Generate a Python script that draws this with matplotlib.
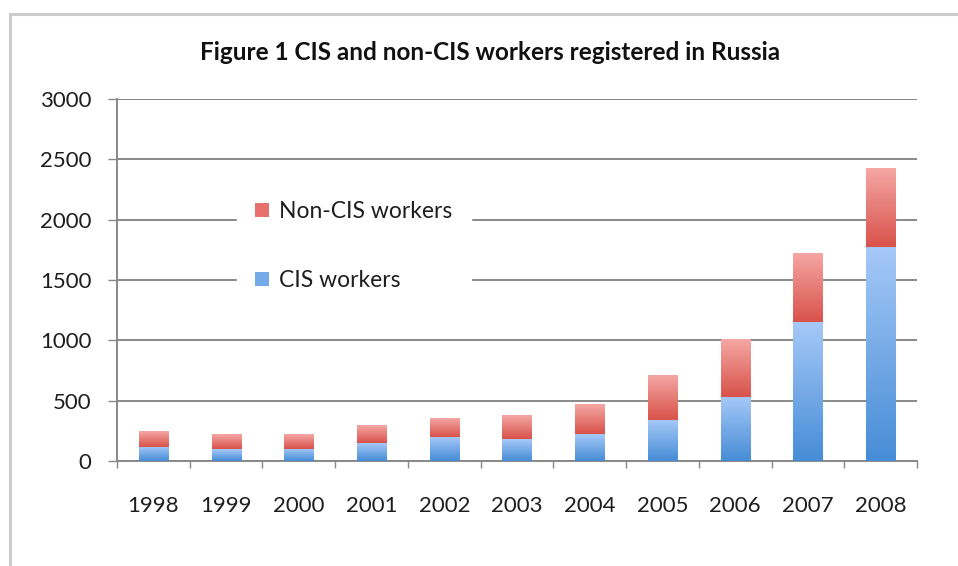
"""
Stacked bar chart: CIS and non-CIS workers registered in Russia, 1998-2008.

Output:
  out.png
"""

import matplotlib.pyplot as plt
import numpy as np
from matplotlib.colors import LinearSegmentedColormap
from matplotlib.lines import Line2D
from matplotlib.patches import Patch


YEARS = ["1998", "1999", "2000", "2001", "2002", "2003", "2004", "2005", "2006", "2007", "2008"]
CIS_WORKERS = [117, 96, 101, 148, 202, 182, 220, 340, 531, 1152, 1776]
NON_CIS_WORKERS = [129, 117, 118, 145, 157, 196, 241, 365, 477, 564, 652]
Y_TICKS = [0, 500, 1000, 1500, 2000, 2500, 3000]

TITLE = "Figure 1 CIS and non-CIS workers registered in Russia"

# top -> bottom colours of the gradient fills
BLUE_GRAD = ("#a6c9f8", "#468cd6")
RED_GRAD = ("#f5a7a4", "#d8524a")

plt.rcParams["font.family"] = ["Lato", "DejaVu Sans"]


def gradient_fill(ax, bars, colors, zorder):
    cmap = LinearSegmentedColormap.from_list("g", [colors[1], colors[0]])
    grad = np.linspace(0, 1, 256).reshape(-1, 1)
    for b in bars:
        x0, y0 = b.get_x(), b.get_y()
        x1, y1 = x0 + b.get_width(), y0 + b.get_height()
        ax.imshow(grad, extent=[x0, x1, y0, y1], origin="lower", aspect="auto",
                  cmap=cmap, zorder=zorder, interpolation="bicubic")
        b.set_facecolor("none")


def main() -> None:
    fig = plt.figure(figsize=(9.58, 5.66), dpi=100)
    ax = fig.add_axes([117 / 958, 1 - 461 / 566, 800 / 958, 362 / 566])

    x = np.arange(len(YEARS))
    width = 0.4
    cis = ax.bar(x, CIS_WORKERS, width, color=BLUE_GRAD[1], linewidth=0, zorder=3)
    non = ax.bar(x, NON_CIS_WORKERS, width, bottom=CIS_WORKERS, color=RED_GRAD[1],
                 linewidth=0, zorder=3)
    gradient_fill(ax, cis, BLUE_GRAD, 3)
    gradient_fill(ax, non, RED_GRAD, 3)

    ax.set_xlim(-0.5, len(YEARS) - 0.5)
    ax.set_ylim(0, 3000)
    ax.set_yticks(Y_TICKS)
    ax.set_xticks(x)
    ax.set_xticklabels(YEARS)
    ax.set_xticks(np.arange(-0.5, len(YEARS)), minor=True)

    ax.yaxis.grid(True, color="#888888", linewidth=1.4, zorder=1)
    ax.set_axisbelow(True)
    for side in ("top", "right"):
        ax.spines[side].set_visible(False)
    for side in ("left", "bottom"):
        ax.spines[side].set_color("#888888")
        ax.spines[side].set_linewidth(1.4)

    ax.tick_params(axis="y", length=6.5, width=1.0, color="#888888", pad=12,
                   labelsize=16, labelcolor="#1e1e1e")
    ax.tick_params(axis="x", which="major", length=0, pad=25, labelsize=16,
                   labelcolor="#1e1e1e")
    ax.tick_params(axis="x", which="minor", length=5, width=1.0, color="#888888")

    handles = [Patch(facecolor="#e8716b", edgecolor="none"),
               Patch(facecolor="#74aae8", edgecolor="none")]
    leg = ax.legend(handles, ["Non-CIS workers", "CIS workers"],
                    loc="center left", bbox_to_anchor=(237 / 958, 1 - 246 / 566),
                    bbox_transform=fig.transFigure, frameon=True, fancybox=False,
                    facecolor="white", edgecolor="white", framealpha=1,
                    fontsize=16.5, labelspacing=2.1, handlelength=0.6,
                    handleheight=0.6, handletextpad=0.45, borderpad=0.8,
                    borderaxespad=0)
    for t in leg.get_texts():
        t.set_color("#1e1e1e")
    leg.set_zorder(2)

    fig.text(490 / 958, 1 - 52 / 566, TITLE, ha="center", va="center",
             fontsize=17.5, fontweight="bold", color="#111111")

    # light grey chart border (top and left edges)
    fig.add_artist(Line2D([9.5 / 958, 1], [1 - 13.5 / 566] * 2,
                          transform=fig.transFigure, color="#cccccc", linewidth=2.2))
    fig.add_artist(Line2D([9.5 / 958] * 2, [0, 1 - 13.5 / 566],
                          transform=fig.transFigure, color="#cccccc", linewidth=2.2))

    fig.savefig("out.png", dpi=100)
    plt.close(fig)


if __name__ == "__main__":
    main()
